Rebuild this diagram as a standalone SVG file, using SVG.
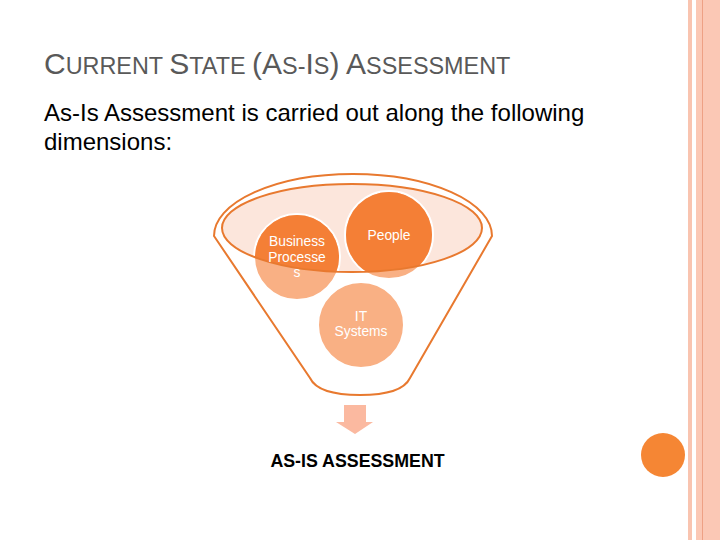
<svg xmlns="http://www.w3.org/2000/svg" width="720" height="540" viewBox="0 0 720 540">
<defs>
<style>
.title{font-family:"Liberation Sans",Arial,sans-serif;fill:#595959}
.body{font-family:"Liberation Sans",Arial,sans-serif;font-size:24px;fill:#000}
.ct{font-family:"Liberation Sans",Arial,sans-serif;font-size:13.8px;fill:#fff;text-anchor:middle}
.light{fill:#f9b084;stroke:#fff;stroke-width:2}
.dark{fill:#f47f36}
</style>
<clipPath id="ellClip"><ellipse cx="352" cy="228" rx="130" ry="44"/></clipPath>
</defs>
<rect width="720" height="540" fill="#fff"/>
<!-- right decoration -->
<rect x="688" y="0" width="4" height="540" fill="#f9c4b0"/>
<rect x="696" y="0" width="24" height="540" fill="#fbc8b5"/>
<line x1="702.5" y1="0" x2="702.5" y2="540" stroke="#eea185" stroke-width="1"/>
<circle cx="663" cy="455" r="22" fill="#f58634"/>
<!-- title -->
<text class="title" x="44" y="74"><tspan font-size="30">C</tspan><tspan font-size="23.4">URRENT </tspan><tspan font-size="30">S</tspan><tspan font-size="23.4">TATE </tspan><tspan font-size="30">(A</tspan><tspan font-size="23.4">S-</tspan><tspan font-size="30">I</tspan><tspan font-size="23.4">S</tspan><tspan font-size="30">) A</tspan><tspan font-size="23.4">SSESSMENT</tspan></text>
<text class="body" x="44" y="121">As-Is Assessment is carried out along the following</text>
<text class="body" x="44" y="150">dimensions:</text>
<!-- funnel -->
<g id="funnel">
<path d="M 214,236 A 139,62 0 0 1 492,236 L 410,378 Q 402,395 360,395 Q 318,395 310,378 Z" fill="#fff" stroke="#e8792f" stroke-width="2"/>
<ellipse cx="352" cy="228" rx="130" ry="44" fill="#fce6dc"/>
</g>
<g id="node-business">
<circle class="light" cx="297" cy="257" r="43"/>
<circle class="dark" cx="297" cy="257" r="42" clip-path="url(#ellClip)"/>
</g>
<g id="node-people">
<circle class="light" cx="389" cy="235" r="44"/>
<circle class="dark" cx="389" cy="235" r="43" clip-path="url(#ellClip)"/>
</g>
<g id="node-it">
<circle class="light" cx="361" cy="325" r="43" fill="#f9b48b"/>
</g>
<ellipse cx="352" cy="228" rx="130" ry="44" fill="none" stroke="#e8792f" stroke-width="2"/>
<g id="labels">
<text class="ct" x="297" y="246">Business</text>
<text class="ct" x="297" y="262">Processe</text>
<text class="ct" x="297" y="277">s</text>
<text class="ct" x="389" y="240">People</text>
<text class="ct" x="361" y="321">IT</text>
<text class="ct" x="361" y="336">Systems</text>
</g>
<g id="connectors">
<path d="M 344,405 L 366,405 L 366,422 L 373,422 L 355,434 L 336,422 L 344,422 Z" fill="#fbb9a0"/>
</g>
<g id="node-result">
<text x="357.5" y="467" font-family="'Liberation Sans',Arial,sans-serif" font-size="17.8" font-weight="bold" text-anchor="middle" fill="#000">AS-IS ASSESSMENT</text>
</g>
</svg>
